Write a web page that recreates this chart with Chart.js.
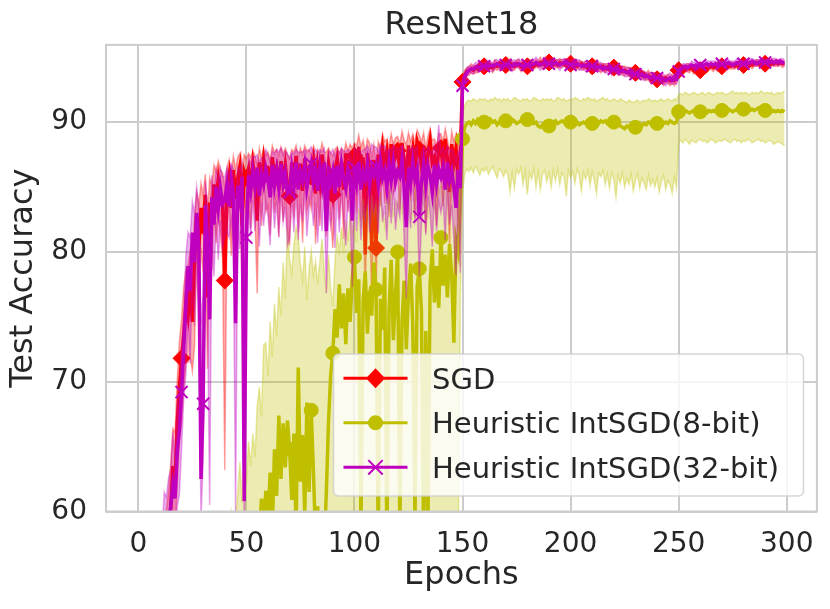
<!DOCTYPE html>
<html>
<head>
<meta charset="utf-8">
<title>ResNet18</title>
<script src="https://cdn.jsdelivr.net/npm/chart.js@4.4.0/dist/chart.umd.min.js"></script>
<style>
  html, body { margin: 0; padding: 0; background: #ffffff; }
  canvas { display: block; }
</style>
</head>
<body>
<canvas id="accChart" width="830" height="609"></canvas>
<script>
// ResNet18 test accuracy per epoch (0..299).
// Bands: SGD / 32-bit as spread above/below the mean, 8-bit as low/high.

const xTicks = [0, 50, 100, 150, 200, 250, 300];
const yTicks = [60, 70, 80, 90];
const seriesNames = ["SGD", "Heuristic IntSGD(8-bit)", "Heuristic IntSGD(32-bit)"];

const sgdMean = [
  20.5, 28.3, 33.1, 38.4, 41.2, 44.8, 46.5, 49.0, 50.7, 52.1,
  53.5, 55.2, 56.0, 57.4, 58.3, 60.2, 63.5, 62.0, 66.8, 69.5,
  71.8, 73.5, 76.0, 75.0, 77.2, 74.6, 79.5, 82.8, 80.2, 83.4,
  82.0, 84.4, 76.5, 83.8, 82.5, 85.2, 84.0, 85.6, 84.3, 83.6,
  77.8, 84.8, 85.9, 83.4, 86.3, 84.1, 85.7, 86.6, 82.0, 86.2,
  85.7, 86.4, 84.9, 86.8, 85.5, 82.4, 86.9, 85.2, 87.1, 85.8,
  86.0, 84.6, 87.3, 85.9, 86.5, 84.8, 87.0, 85.4, 86.7, 85.1,
  84.3, 86.9, 85.6, 87.4, 85.0, 86.8, 84.7, 87.2, 85.9, 86.4,
  85.8, 87.0, 84.5, 86.6, 85.3, 87.5, 86.1, 84.9, 86.8, 85.6,
  84.4, 86.3, 87.2, 85.5, 86.9, 84.8, 87.6, 85.9, 87.0, 86.2,
  87.4, 86.0, 88.1, 85.7, 87.3, 79.8, 87.6, 86.4, 80.5, 87.1,
  80.3, 87.5, 86.2, 88.0, 86.6, 87.7, 85.9, 88.3, 86.8, 87.4,
  87.8, 86.3, 88.4, 87.0, 85.8, 88.2, 86.7, 87.9, 86.1, 88.5,
  87.9, 86.6, 88.2, 85.4, 87.6, 88.6, 86.9, 87.3, 85.7, 88.1,
  88.0, 86.5, 88.7, 87.2, 84.6, 88.3, 86.8, 88.0, 85.5, 87.6,
  93.1, 93.6, 93.9, 94.0, 94.1, 94.0, 94.2, 94.1, 94.3, 94.2,
  94.3, 94.2, 94.4, 94.3, 94.2, 94.4, 94.3, 94.5, 94.3, 94.4,
  94.4, 94.3, 94.5, 94.4, 94.3, 94.5, 94.4, 94.3, 94.5, 94.4,
  94.3, 94.4, 94.5, 94.4, 94.5, 94.4, 94.6, 94.5, 94.4, 94.6,
  94.6, 94.5, 94.6, 94.5, 94.4, 94.6, 94.5, 94.6, 94.5, 94.4,
  94.5, 94.4, 94.5, 94.3, 94.4, 94.5, 94.3, 94.4, 94.3, 94.4,
  94.3, 94.2, 94.4, 94.3, 94.2, 94.3, 94.1, 94.2, 94.3, 94.1,
  94.2, 94.1, 94.0, 94.1, 93.9, 94.0, 93.9, 93.8, 93.9, 93.8,
  93.8, 93.7, 93.8, 93.6, 93.7, 93.5, 93.6, 93.4, 93.5, 93.4,
  93.3, 93.4, 93.3, 93.2, 93.4, 93.3, 93.2, 93.3, 93.2, 93.4,
  94.0, 94.1, 94.2, 94.1, 94.2, 94.1, 94.2, 94.0, 94.1, 94.2,
  94.0, 94.1, 94.2, 94.1, 94.2, 94.3, 94.2, 94.3, 94.2, 94.3,
  94.3, 94.2, 94.3, 94.4, 94.3, 94.4, 94.3, 94.4, 94.5, 94.4,
  94.4, 94.5, 94.4, 94.5, 94.4, 94.5, 94.6, 94.5, 94.4, 94.5,
  94.5, 94.6, 94.5, 94.6, 94.5, 94.6, 94.5, 94.6, 94.5, 94.5
];
const sgdUp = [
  2.0, 2.0, 2.0, 2.0, 2.0, 2.0, 2.0, 2.0, 2.0, 2.0,
  2.5, 2.4, 3.0, 2.8, 3.2, 3.5, 2.9, 4.1, 3.3, 3.6,
  3.0, 3.8, 2.6, 4.0, 2.9, 4.5, 3.1, 1.8, 3.4, 1.9,
  2.4, 1.6, 6.2, 1.9, 2.6, 1.5, 2.2, 1.4, 2.0, 2.5,
  7.2, 1.7, 1.2, 2.6, 1.1, 2.3, 1.6, 1.0, 4.2, 1.3,
  1.5, 1.2, 2.4, 1.0, 1.9, 4.3, 1.1, 2.0, 0.9, 1.6,
  1.7, 2.5, 0.9, 1.8, 1.4, 2.6, 1.1, 2.2, 1.3, 2.4,
  2.9, 1.0, 2.1, 0.8, 2.3, 1.2, 2.8, 1.0, 1.9, 1.5,
  1.7, 1.1, 2.7, 1.3, 2.2, 0.9, 1.6, 2.8, 1.2, 2.0,
  3.0, 1.6, 0.9, 2.1, 1.1, 2.7, 0.8, 1.9, 1.3, 1.8,
  1.0, 2.2, 0.9, 2.4, 1.3, 7.9, 1.1, 2.0, 6.8, 1.2,
  6.5, 1.0, 1.8, 1.1, 1.9, 1.0, 2.2, 0.8, 1.5, 1.4,
  1.1, 2.0, 0.9, 1.6, 2.5, 1.0, 1.8, 1.2, 2.3, 0.9,
  1.1, 1.9, 1.0, 2.6, 1.3, 0.9, 1.7, 1.4, 2.5, 1.0,
  1.1, 2.0, 0.8, 1.5, 3.1, 1.0, 1.7, 1.1, 2.8, 1.4,
  0.5, 0.4, 0.3, 0.3, 0.4, 0.3, 0.2, 0.3, 0.4, 0.3,
  0.3, 0.4, 0.2, 0.3, 0.3, 0.4, 0.3, 0.2, 0.3, 0.4,
  0.2, 0.3, 0.4, 0.3, 0.2, 0.3, 0.4, 0.3, 0.3, 0.2,
  0.3, 0.4, 0.3, 0.2, 0.3, 0.3, 0.4, 0.2, 0.3, 0.3,
  0.4, 0.3, 0.2, 0.3, 0.4, 0.3, 0.3, 0.2, 0.4, 0.3,
  0.3, 0.2, 0.3, 0.4, 0.3, 0.2, 0.3, 0.3, 0.4, 0.3,
  0.2, 0.3, 0.4, 0.3, 0.3, 0.2, 0.4, 0.3, 0.2, 0.3,
  0.3, 0.4, 0.3, 0.2, 0.4, 0.3, 0.3, 0.4, 0.3, 0.2,
  0.4, 0.3, 0.3, 0.4, 0.2, 0.3, 0.4, 0.3, 0.3, 0.4,
  0.3, 0.4, 0.3, 0.3, 0.2, 0.4, 0.3, 0.4, 0.3, 0.5,
  0.4, 0.3, 0.2, 0.3, 0.3, 0.4, 0.2, 0.3, 0.3, 0.2,
  0.3, 0.2, 0.3, 0.3, 0.2, 0.3, 0.2, 0.3, 0.2, 0.3,
  0.2, 0.3, 0.2, 0.2, 0.3, 0.2, 0.3, 0.2, 0.2, 0.3,
  0.2, 0.2, 0.3, 0.2, 0.3, 0.2, 0.2, 0.3, 0.2, 0.2,
  0.3, 0.2, 0.2, 0.3, 0.2, 0.2, 0.3, 0.2, 0.2, 0.2
];
const sgdDown = [
  3.0, 3.0, 3.0, 3.0, 3.0, 3.0, 3.0, 3.0, 3.0, 3.0,
  3.5, 3.2, 4.0, 3.6, 4.4, 3.9, 5.1, 3.7, 4.8, 4.2,
  5.0, 3.9, 4.6, 3.5, 5.2, 3.8, 6.8, 2.9, 4.4, 3.1,
  3.6, 2.4, 5.5, 2.8, 3.9, 2.1, 3.3, 2.6, 3.0, 4.2,
  14.6, 2.9, 2.0, 3.7, 1.8, 3.4, 2.2, 1.9, 5.0, 2.1,
  2.6, 1.9, 3.1, 1.6, 2.8, 5.6, 1.8, 3.2, 1.5, 2.7,
  2.4, 3.3, 1.6, 2.9, 2.0, 3.6, 1.7, 3.1, 2.2, 3.4,
  3.8, 1.9, 3.0, 1.5, 3.5, 1.8, 4.0, 1.6, 2.8, 2.3,
  2.5, 1.7, 3.9, 2.1, 3.3, 1.6, 2.4, 3.7, 1.9, 2.9,
  4.1, 2.3, 1.5, 3.0, 1.7, 3.8, 1.4, 2.8, 2.0, 2.6,
  1.6, 3.0, 1.5, 3.3, 2.0, 4.2, 1.8, 3.1, 4.6, 1.9,
  4.1, 1.7, 2.7, 1.8, 2.9, 1.6, 3.2, 1.4, 2.4, 2.1,
  1.8, 3.0, 1.5, 2.4, 3.6, 1.7, 2.8, 1.9, 3.4, 1.5,
  1.8, 2.9, 1.6, 3.9, 2.0, 1.5, 2.6, 2.2, 3.7, 1.6,
  1.7, 3.0, 1.4, 2.3, 4.4, 1.6, 2.6, 1.8, 4.0, 2.2,
  0.6, 0.4, 0.3, 0.4, 0.3, 0.3, 0.4, 0.3, 0.2, 0.3,
  0.4, 0.3, 0.3, 0.2, 0.4, 0.3, 0.3, 0.4, 0.2, 0.3,
  0.3, 0.2, 0.3, 0.4, 0.3, 0.3, 0.2, 0.4, 0.3, 0.3,
  0.2, 0.3, 0.4, 0.3, 0.3, 0.2, 0.3, 0.4, 0.3, 0.2,
  0.3, 0.4, 0.3, 0.3, 0.2, 0.4, 0.3, 0.3, 0.2, 0.4,
  0.3, 0.3, 0.4, 0.2, 0.3, 0.4, 0.3, 0.2, 0.3, 0.3,
  0.4, 0.3, 0.2, 0.3, 0.4, 0.3, 0.3, 0.2, 0.4, 0.3,
  0.3, 0.2, 0.4, 0.3, 0.3, 0.4, 0.2, 0.3, 0.4, 0.3,
  0.3, 0.4, 0.3, 0.2, 0.4, 0.3, 0.3, 0.4, 0.3, 0.3,
  0.4, 0.3, 0.3, 0.4, 0.3, 0.3, 0.4, 0.3, 0.4, 0.3,
  0.5, 0.3, 0.3, 0.2, 0.3, 0.3, 0.2, 0.3, 0.2, 0.3,
  0.2, 0.3, 0.2, 0.3, 0.2, 0.2, 0.3, 0.2, 0.3, 0.2,
  0.3, 0.2, 0.2, 0.3, 0.2, 0.3, 0.2, 0.2, 0.3, 0.2,
  0.2, 0.3, 0.2, 0.2, 0.3, 0.2, 0.3, 0.2, 0.2, 0.3,
  0.2, 0.2, 0.3, 0.2, 0.2, 0.3, 0.2, 0.2, 0.3, 0.2
];

const q8Mean = [
  10.0, 14.5, 18.2, 21.0, 23.5, 25.8, 27.4, 29.9, 31.2, 33.0,
  34.1, 35.8, 36.5, 38.0, 38.9, 40.2, 41.0, 42.3, 42.9, 44.1,
  44.8, 45.5, 46.7, 45.9, 47.8, 48.3, 47.6, 49.2, 49.9, 48.8,
  50.5, 51.2, 50.1, 52.0, 51.4, 52.8, 52.2, 53.5, 52.7, 54.0,
  53.4, 54.6, 55.2, 54.1, 55.8, 55.0, 56.4, 55.7, 57.0, 56.2,
  57.5, 58.1, 56.9, 58.6, 57.8, 59.1, 58.3, 61.0, 58.9, 61.6,
  59.5, 63.0, 58.7, 64.8, 61.2, 67.4, 62.5, 66.8, 63.4, 67.0,
  64.8, 60.9, 66.0, 58.5, 71.1, 62.3, 65.9, 59.8, 68.4, 61.5,
  67.8, 63.2, 57.9, 60.4, 55.6, 58.8, 57.2, 61.5, 66.9, 70.5,
  72.2, 75.6, 73.4, 77.5, 74.1, 76.8, 72.9, 77.2, 74.6, 78.0,
  79.6, 75.3, 77.9, 58.4, 76.2, 78.5, 73.7, 77.0, 75.1, 79.2,
  77.1, 57.5, 76.4, 74.0, 78.8, 56.9, 75.5, 79.4, 73.2, 76.7,
  80.0, 58.2, 74.6, 77.8, 72.5, 76.9, 79.1, 74.3, 59.0, 77.3,
  78.7, 75.4, 57.8, 73.9, 58.6, 77.6, 80.2, 76.1, 78.9, 75.7,
  81.1, 77.4, 79.8, 76.5, 80.6, 78.2, 73.0, 80.9, 80.0, 84.0,
  88.7, 89.6, 89.9, 90.0, 89.8, 90.1, 89.9, 90.2, 90.0, 89.9,
  90.0, 90.1, 89.9, 90.2, 90.0, 90.1, 89.8, 90.0, 90.2, 90.1,
  90.1, 89.9, 90.0, 90.2, 90.1, 89.9, 90.0, 90.1, 90.2, 90.0,
  90.2, 90.0, 90.1, 89.9, 90.0, 89.7, 89.6, 89.8, 89.7, 89.9,
  89.7, 89.9, 90.0, 90.1, 89.9, 90.0, 90.1, 90.0, 89.9, 90.1,
  90.0, 89.9, 90.1, 90.0, 89.8, 89.9, 90.0, 89.9, 90.1, 90.0,
  89.9, 90.0, 89.8, 89.9, 90.1, 90.0, 90.1, 89.9, 90.0, 90.2,
  90.0, 90.1, 89.9, 89.7, 89.6, 89.5, 89.7, 89.6, 89.8, 89.6,
  89.6, 89.7, 89.8, 89.7, 89.9, 89.8, 90.0, 89.9, 89.8, 90.0,
  89.9, 90.0, 89.8, 89.9, 90.0, 89.9, 90.1, 90.0, 89.9, 90.0,
  90.8, 90.7, 90.8, 90.9, 90.8, 90.7, 90.8, 90.9, 90.8, 90.9,
  90.8, 90.9, 90.8, 90.7, 90.9, 90.8, 90.9, 90.8, 90.9, 90.8,
  90.9, 90.8, 90.9, 91.0, 90.9, 90.8, 90.9, 91.0, 90.9, 91.0,
  91.0, 90.9, 91.0, 90.9, 91.0, 90.9, 91.0, 91.1, 91.0, 90.9,
  90.9, 91.0, 90.9, 90.8, 90.9, 90.8, 90.9, 90.8, 90.9, 90.8
];
const q8Lo = [
  2.1, 4.8, 8.3, 9.7, 12.4, 13.9, 16.2, 17.5, 19.3, 20.8,
  21.6, 23.4, 23.9, 25.7, 26.1, 27.8, 28.3, 29.6, 30.2, 31.5,
  31.8, 32.9, 33.4, 33.1, 34.6, 35.2, 34.8, 36.1, 36.7, 36.0,
  37.3, 38.1, 37.6, 38.9, 38.4, 39.7, 39.2, 40.6, 40.1, 41.3,
  40.9, 42.2, 42.6, 41.8, 43.5, 42.9, 44.1, 43.7, 45.0, 44.4,
  45.6, 46.3, 45.1, 47.0, 46.2, 47.8, 46.9, 48.5, 47.4, 49.1,
  48.2, 50.0, 47.6, 51.3, 49.0, 52.4, 49.8, 52.0, 50.6, 53.1,
  51.0, 48.7, 52.6, 47.9, 55.2, 50.3, 53.4, 48.5, 54.7, 49.6,
  54.1, 50.8, 47.2, 49.5, 45.8, 48.0, 46.9, 50.2, 54.0, 56.3,
  44.1, 47.4, 45.6, 49.2, 46.0, 48.5, 44.7, 49.8, 46.9, 50.1,
  52.0, 47.2, 50.5, 31.0, 48.8, 51.1, 45.9, 49.6, 47.0, 51.7,
  49.0, 30.1, 48.4, 46.1, 51.3, 29.5, 47.8, 52.0, 45.4, 48.9,
  52.4, 31.6, 46.7, 50.2, 44.8, 49.0, 51.6, 46.5, 32.8, 49.4,
  50.9, 47.6, 31.2, 46.0, 32.1, 49.9, 52.8, 48.2, 51.2, 47.8,
  53.5, 49.6, 52.1, 48.7, 53.0, 50.4, 44.9, 53.3, 57.2, 76.5,
  84.5, 86.0, 86.4, 86.2, 86.5, 86.1, 86.6, 86.3, 85.9, 86.4,
  86.2, 86.5, 86.0, 86.3, 86.6, 86.1, 85.7, 86.4, 86.2, 85.8,
  86.3, 85.9, 84.6, 86.1, 84.9, 86.4, 86.0, 86.5, 85.2, 86.2,
  84.4, 86.1, 85.6, 86.4, 85.0, 86.2, 84.8, 86.0, 86.3, 85.4,
  86.1, 85.0, 86.3, 85.5, 86.4, 85.2, 86.1, 85.8, 84.3, 86.3,
  85.7, 86.2, 85.3, 86.4, 85.9, 84.7, 86.1, 85.6, 86.3, 85.1,
  86.2, 85.5, 84.5, 86.1, 85.8, 86.3, 85.2, 86.0, 84.9, 86.1,
  85.6, 84.2, 85.9, 85.3, 86.1, 85.0, 85.7, 85.2, 86.0, 84.7,
  85.5, 86.0, 84.9, 85.7, 85.3, 84.8, 85.9, 85.1, 85.6, 85.0,
  85.7, 84.6, 85.4, 85.9, 84.8, 85.5, 85.2, 84.5, 85.8, 84.9,
  88.5, 88.6, 88.4, 88.7, 88.5, 88.3, 88.6, 88.5, 88.4, 88.6,
  88.7, 88.5, 88.6, 88.4, 88.5, 88.7, 88.6, 88.4, 88.5, 88.6,
  88.5, 88.7, 88.6, 88.5, 88.4, 88.6, 88.7, 88.5, 88.6, 88.4,
  88.6, 88.5, 88.7, 88.6, 88.4, 88.5, 88.6, 88.7, 88.5, 88.6,
  88.4, 88.5, 88.6, 88.5, 88.3, 88.4, 88.5, 88.4, 88.3, 88.2
];
const q8Hi = [
  20.0, 24.0, 28.0, 31.0, 33.0, 35.0, 37.0, 39.0, 40.0, 42.0,
  43.0, 44.0, 45.0, 46.5, 47.0, 48.0, 49.0, 49.5, 50.5, 51.0,
  52.0, 52.5, 53.5, 53.0, 54.5, 55.0, 54.0, 56.0, 56.5, 55.5,
  57.0, 57.5, 56.5, 58.0, 57.5, 59.0, 58.0, 59.5, 58.5, 59.8,
  58.8, 59.6, 58.2, 59.9, 58.5, 59.4, 61.5, 63.8, 60.7, 64.3,
  62.1, 65.4, 63.5, 66.0, 64.2, 68.1, 69.6, 67.3, 72.8, 73.0,
  70.4, 74.6, 71.9, 76.0, 73.5, 77.3, 75.1, 79.2, 76.4, 81.9,
  79.5, 78.3, 80.6, 81.9, 81.2, 79.0, 77.8, 80.4, 76.3, 78.7,
  80.1, 78.2, 79.3, 77.5, 79.3, 81.0, 78.6, 76.9, 79.8, 77.2,
  75.8, 79.4, 81.2, 80.0, 81.9, 79.9, 82.4, 80.8, 83.0, 81.5,
  82.6, 80.7, 83.4, 81.9, 84.1, 82.5, 83.6, 81.8, 84.4, 82.9,
  83.8, 82.2, 84.6, 83.1, 82.0, 84.9, 83.3, 85.2, 82.7, 84.0,
  83.5, 85.1, 82.9, 84.7, 83.6, 85.4, 84.0, 82.8, 85.0, 83.9,
  84.8, 83.2, 85.5, 84.1, 82.6, 85.7, 84.4, 83.5, 85.9, 84.6,
  85.3, 83.9, 86.0, 84.8, 85.6, 84.2, 86.3, 85.1, 86.0, 87.4,
  90.6, 91.3, 91.6, 91.7, 91.6, 91.8, 91.7, 91.6, 91.8, 91.7,
  91.8, 91.7, 91.6, 91.8, 91.7, 91.9, 91.7, 91.8, 91.6, 91.8,
  91.7, 91.8, 91.6, 91.7, 91.9, 91.8, 91.7, 91.6, 91.8, 91.7,
  91.8, 91.6, 91.7, 91.9, 91.8, 91.7, 91.6, 91.8, 91.7, 91.8,
  91.7, 91.8, 91.6, 91.7, 91.9, 91.8, 91.7, 91.8, 91.6, 91.7,
  91.8, 91.7, 91.9, 91.8, 91.7, 91.6, 91.8, 91.7, 91.9, 91.8,
  91.7, 91.8, 91.6, 91.7, 91.8, 91.9, 91.7, 91.8, 91.6, 91.7,
  91.8, 91.7, 91.6, 91.8, 91.7, 91.6, 91.5, 91.7, 91.6, 91.5,
  91.6, 91.7, 91.5, 91.6, 91.7, 91.6, 91.8, 91.7, 91.6, 91.7,
  91.6, 91.7, 91.8, 91.6, 91.7, 91.8, 91.7, 91.6, 91.8, 91.7,
  92.1, 92.2, 92.1, 92.3, 92.2, 92.1, 92.2, 92.3, 92.2, 92.1,
  92.2, 92.3, 92.1, 92.2, 92.3, 92.2, 92.1, 92.2, 92.3, 92.2,
  92.3, 92.2, 92.1, 92.2, 92.3, 92.4, 92.2, 92.3, 92.2, 92.3,
  92.2, 92.3, 92.2, 92.1, 92.3, 92.2, 92.3, 92.2, 92.4, 92.3,
  92.2, 92.3, 92.2, 92.3, 92.1, 92.2, 92.3, 92.2, 92.3, 92.4
];

const q32Mean = [
  18.0, 26.5, 31.9, 36.2, 40.8, 43.1, 46.0, 48.2, 50.5, 51.9,
  53.8, 55.0, 57.2, 58.1, 59.0, 60.4, 62.1, 61.0, 64.5, 66.3,
  69.2, 72.5, 75.8, 78.9, 77.0, 81.5, 79.2, 83.0, 80.4, 62.5,
  68.3, 83.6, 81.0, 74.8, 84.2, 82.1, 85.0, 83.3, 84.9, 83.7,
  84.0, 85.2, 83.5, 85.6, 84.4, 74.5, 85.1, 84.0, 85.8, 60.8,
  81.1, 85.9, 84.7, 86.2, 85.0, 86.5, 84.3, 86.0, 85.2, 86.4,
  85.6, 84.2, 86.7, 85.1, 86.3, 84.9, 86.8, 85.3, 86.1, 84.6,
  84.6, 86.4, 85.1, 86.9, 84.8, 86.2, 85.5, 86.7, 84.9, 86.0,
  86.8, 85.4, 86.3, 84.7, 86.5, 85.2, 86.9, 81.6, 86.0, 85.3,
  86.2, 84.5, 86.6, 85.0, 86.8, 85.7, 84.9, 86.4, 85.8, 82.4,
  86.5, 85.3, 86.9, 84.8, 86.2, 85.6, 86.8, 85.1, 86.4, 85.9,
  86.6, 85.2, 87.0, 85.7, 86.3, 84.9, 86.8, 85.5, 86.9, 85.4,
  86.2, 85.8, 87.1, 85.0, 81.9, 86.5, 85.3, 86.9, 85.6, 86.3,
  82.7, 85.4, 86.8, 85.1, 86.6, 85.9, 84.6, 86.7, 85.2, 86.4,
  85.8, 86.5, 84.8, 86.9, 85.5, 86.2, 85.0, 83.4, 86.3, 84.9,
  92.8, 93.5, 93.8, 94.0, 94.1, 94.1, 94.2, 94.3, 94.2, 94.3,
  94.3, 94.4, 94.3, 94.4, 94.3, 94.4, 94.5, 94.4, 94.3, 94.4,
  94.4, 94.5, 94.4, 94.3, 94.5, 94.4, 94.5, 94.4, 94.3, 94.4,
  94.4, 94.5, 94.4, 94.5, 94.6, 94.5, 94.4, 94.5, 94.6, 94.5,
  94.5, 94.6, 94.5, 94.6, 94.5, 94.4, 94.5, 94.6, 94.5, 94.5,
  94.4, 94.5, 94.4, 94.5, 94.4, 94.3, 94.4, 94.3, 94.4, 94.3,
  94.3, 94.2, 94.3, 94.2, 94.3, 94.1, 94.2, 94.1, 94.2, 94.0,
  94.1, 94.0, 94.1, 93.9, 94.0, 93.9, 93.8, 93.9, 93.7, 93.8,
  93.7, 93.8, 93.6, 93.7, 93.5, 93.6, 93.5, 93.4, 93.5, 93.4,
  93.4, 93.3, 93.4, 93.3, 93.2, 93.3, 93.4, 93.2, 93.3, 93.3,
  93.9, 94.1, 94.2, 94.3, 94.2, 94.3, 94.4, 94.3, 94.4, 94.3,
  94.4, 94.3, 94.4, 94.5, 94.4, 94.5, 94.4, 94.5, 94.4, 94.5,
  94.5, 94.4, 94.5, 94.6, 94.5, 94.4, 94.5, 94.6, 94.5, 94.6,
  94.5, 94.6, 94.5, 94.6, 94.7, 94.6, 94.5, 94.6, 94.7, 94.6,
  94.6, 94.7, 94.6, 94.7, 94.6, 94.7, 94.6, 94.7, 94.6, 94.6
];
const q32Up = [
  2.0, 2.0, 2.0, 2.0, 2.0, 2.0, 2.0, 2.0, 2.0, 2.0,
  2.8, 3.4, 4.3, 3.0, 3.6, 2.9, 4.0, 3.2, 3.8, 3.1,
  3.5, 2.8, 3.9, 2.6, 4.1, 2.4, 3.7, 2.0, 3.3, 12.0,
  8.5, 1.9, 2.8, 7.6, 1.7, 2.5, 1.4, 2.3, 1.6, 2.1,
  1.8, 1.3, 2.4, 1.2, 2.0, 9.2, 1.5, 2.2, 1.1, 20.5,
  3.2, 1.4, 2.1, 1.2, 2.3, 1.0, 2.6, 1.3, 2.0, 1.5,
  1.9, 2.7, 1.1, 2.4, 1.6, 2.8, 1.2, 2.1, 1.7, 3.0,
  2.6, 1.3, 2.4, 1.0, 2.9, 1.5, 2.2, 1.2, 2.8, 1.8,
  1.3, 2.2, 1.6, 2.9, 1.4, 2.5, 1.1, 4.6, 1.8, 2.3,
  1.7, 2.9, 1.3, 2.6, 1.2, 2.1, 2.8, 1.5, 2.0, 4.1,
  1.6, 2.4, 1.2, 2.8, 1.7, 2.3, 1.4, 2.6, 1.9, 2.2,
  1.5, 2.5, 1.3, 2.4, 1.9, 2.7, 1.2, 2.3, 1.4, 2.6,
  1.8, 2.2, 1.1, 2.7, 4.9, 1.6, 2.5, 1.3, 2.2, 1.9,
  4.1, 2.3, 1.4, 2.6, 1.5, 2.0, 3.0, 1.6, 2.4, 3.4,
  1.9, 1.6, 2.8, 1.3, 2.2, 1.8, 2.7, 3.6, 1.5, 2.4,
  0.6, 0.3, 0.4, 0.3, 0.2, 0.3, 0.4, 0.3, 0.3, 0.2,
  0.3, 0.4, 0.3, 0.3, 0.2, 0.4, 0.3, 0.3, 0.4, 0.2,
  0.3, 0.3, 0.2, 0.4, 0.3, 0.3, 0.4, 0.2, 0.3, 0.3,
  0.4, 0.2, 0.3, 0.3, 0.4, 0.3, 0.2, 0.3, 0.4, 0.3,
  0.3, 0.3, 0.4, 0.2, 0.3, 0.4, 0.3, 0.3, 0.2, 0.4,
  0.2, 0.4, 0.3, 0.3, 0.4, 0.3, 0.2, 0.4, 0.3, 0.3,
  0.3, 0.2, 0.4, 0.3, 0.3, 0.4, 0.3, 0.2, 0.3, 0.4,
  0.4, 0.3, 0.2, 0.4, 0.3, 0.3, 0.4, 0.3, 0.2, 0.3,
  0.3, 0.3, 0.4, 0.3, 0.4, 0.2, 0.3, 0.4, 0.3, 0.4,
  0.3, 0.4, 0.3, 0.4, 0.3, 0.3, 0.4, 0.3, 0.4, 0.5,
  0.4, 0.3, 0.3, 0.2, 0.3, 0.2, 0.3, 0.3, 0.2, 0.3,
  0.2, 0.3, 0.2, 0.2, 0.3, 0.2, 0.3, 0.2, 0.3, 0.2,
  0.3, 0.2, 0.3, 0.2, 0.2, 0.3, 0.2, 0.3, 0.2, 0.2,
  0.2, 0.3, 0.2, 0.3, 0.2, 0.2, 0.3, 0.2, 0.2, 0.3,
  0.2, 0.2, 0.3, 0.2, 0.3, 0.2, 0.2, 0.2, 0.3, 0.2
];
const q32Down = [
  3.0, 3.0, 3.0, 3.0, 3.0, 3.0, 3.0, 3.0, 3.0, 3.0,
  3.2, 4.0, 3.5, 4.2, 3.7, 4.5, 3.9, 4.8, 4.1, 5.0,
  4.4, 3.8, 5.2, 4.0, 5.6, 3.6, 4.9, 3.4, 6.1, 3.0,
  4.5, 2.9, 4.8, 14.3, 3.1, 4.0, 2.7, 3.9, 2.5, 3.4,
  2.8, 3.6, 2.4, 3.1, 3.9, 14.5, 2.6, 3.8, 2.3, 3.0,
  5.2, 2.7, 3.5, 2.2, 3.4, 2.6, 3.9, 2.1, 3.2, 2.5,
  2.9, 3.7, 2.0, 3.3, 2.4, 3.8, 2.2, 3.0, 2.6, 4.1,
  3.5, 2.3, 3.6, 2.1, 3.9, 2.5, 3.2, 2.0, 3.7, 2.6,
  2.2, 3.4, 2.5, 4.0, 2.3, 3.6, 2.1, 4.8, 2.7, 3.3,
  2.5, 4.2, 2.2, 3.5, 2.0, 3.1, 4.4, 2.4, 3.0, 5.1,
  2.3, 3.7, 2.0, 3.9, 2.6, 3.2, 2.1, 3.6, 2.4, 3.0,
  2.2, 3.8, 1.9, 3.4, 2.7, 4.0, 2.0, 3.3, 2.1, 3.7,
  2.6, 3.1, 1.8, 3.9, 5.5, 2.4, 3.5, 2.0, 3.2, 2.7,
  4.6, 3.3, 2.1, 3.8, 2.3, 2.9, 4.2, 2.2, 3.6, 2.5,
  2.8, 2.4, 3.9, 2.0, 3.4, 2.6, 4.0, 5.2, 2.3, 6.5,
  0.5, 0.4, 0.3, 0.2, 0.3, 0.4, 0.3, 0.3, 0.2, 0.3,
  0.4, 0.3, 0.2, 0.3, 0.4, 0.3, 0.2, 0.3, 0.3, 0.4,
  0.3, 0.2, 0.3, 0.4, 0.3, 0.2, 0.3, 0.4, 0.3, 0.3,
  0.2, 0.3, 0.4, 0.3, 0.2, 0.3, 0.4, 0.3, 0.3, 0.2,
  0.3, 0.4, 0.2, 0.3, 0.3, 0.4, 0.3, 0.2, 0.4, 0.3,
  0.4, 0.3, 0.3, 0.2, 0.4, 0.3, 0.3, 0.4, 0.2, 0.3,
  0.3, 0.4, 0.2, 0.3, 0.3, 0.2, 0.4, 0.3, 0.3, 0.4,
  0.2, 0.3, 0.4, 0.3, 0.2, 0.4, 0.3, 0.3, 0.4, 0.3,
  0.4, 0.3, 0.3, 0.4, 0.3, 0.3, 0.2, 0.4, 0.3, 0.3,
  0.3, 0.4, 0.3, 0.3, 0.4, 0.3, 0.4, 0.3, 0.3, 0.4,
  0.5, 0.3, 0.2, 0.3, 0.3, 0.2, 0.3, 0.2, 0.3, 0.3,
  0.3, 0.2, 0.3, 0.2, 0.3, 0.3, 0.2, 0.3, 0.2, 0.3,
  0.2, 0.3, 0.2, 0.3, 0.2, 0.2, 0.3, 0.2, 0.3, 0.2,
  0.3, 0.2, 0.2, 0.3, 0.2, 0.3, 0.2, 0.2, 0.3, 0.2,
  0.2, 0.3, 0.2, 0.2, 0.3, 0.2, 0.3, 0.2, 0.2, 0.2
];

const FONT = "'DejaVu Sans', 'Liberation Sans', sans-serif";
const TEXT = "#262626";
const GRID = "#cccccc";
const RED = "255,0,0", OLIVE = "191,191,0", MAGENTA = "191,0,191";

const rgba = (c, a) => `rgba(${c},${a})`;
const toPoints = vals => vals.map((y, i) => ({ x: i, y }));
const markEvery = r => ctx => (ctx.dataIndex % 10 === 0 ? r : 0);

const sgdLo = sgdMean.map((m, i) => m - sgdDown[i]);
const sgdHi = sgdMean.map((m, i) => m + sgdUp[i]);
const q32Lo = q32Mean.map((m, i) => m - q32Down[i]);
const q32Hi = q32Mean.map((m, i) => m + q32Up[i]);

// lower edge, then upper edge filled back to it
function band(lo, hi, color, order) {
  const edge = { borderColor: rgba(color, 0.35), borderWidth: 1.5, pointRadius: 0 };
  return [
    { ...edge, data: toPoints(lo), fill: false, order: order },
    { ...edge, data: toPoints(hi), fill: "-1", backgroundColor: rgba(color, 0.3), order: order - 1 }
  ];
}

function meanLine(vals, color, style, radius, markerBorder, order) {
  return {
    data: toPoints(vals),
    borderColor: rgba(color, 1),
    borderWidth: 3.5,
    fill: false,
    pointStyle: style,
    pointRadius: markEvery(radius),
    pointBackgroundColor: rgba(color, 1),
    pointBorderColor: rgba(color, 1),
    pointBorderWidth: markerBorder,
    order: order
  };
}

const datasets = [
  ...band(sgdLo, sgdHi, RED, 60),
  meanLine(sgdMean, RED, "rectRot", 8.5, 1, 50),
  ...band(q8Lo, q8Hi, OLIVE, 40),
  meanLine(q8Mean, OLIVE, "circle", 7, 1, 30),
  ...band(q32Lo, q32Hi, MAGENTA, 20),
  meanLine(q32Mean, MAGENTA, "crossRot", 8.5, 2, 10)
];

// matplotlib style frame on all four sides
const framePlugin = {
  id: "frame",
  afterDatasetsDraw(chart) {
    const { ctx, chartArea: a } = chart;
    ctx.save();
    ctx.strokeStyle = GRID;
    ctx.lineWidth = 2;
    ctx.strokeRect(a.left, a.top, a.right - a.left, a.bottom - a.top);
    ctx.restore();
  }
};

function drawMarker(ctx, style, x, y, color) {
  ctx.fillStyle = color;
  ctx.strokeStyle = color;
  ctx.beginPath();
  if (style === "rectRot") {
    ctx.moveTo(x, y - 10); ctx.lineTo(x + 9.5, y); ctx.lineTo(x, y + 10); ctx.lineTo(x - 9.5, y);
    ctx.closePath(); ctx.fill();
  } else if (style === "circle") {
    ctx.arc(x, y, 7.5, 0, Math.PI * 2); ctx.fill();
  } else {
    const r = 7.2;
    ctx.lineWidth = 2;
    ctx.moveTo(x - r, y - r); ctx.lineTo(x + r, y + r);
    ctx.moveTo(x + r, y - r); ctx.lineTo(x - r, y + r);
    ctx.stroke();
  }
}

const legendPlugin = {
  id: "innerLegend",
  afterDraw(chart) {
    const ctx = chart.ctx;
    const box = { x: 333.5, y: 354, w: 470, h: 142, r: 5 };
    ctx.save();
    ctx.beginPath();
    ctx.roundRect(box.x, box.y, box.w, box.h, box.r);
    ctx.fillStyle = "rgba(255,255,255,0.8)";
    ctx.fill();
    ctx.strokeStyle = "rgba(204,204,204,0.8)";
    ctx.lineWidth = 1.5;
    ctx.stroke();

    const colors = [RED, OLIVE, MAGENTA];
    const styles = ["rectRot", "circle", "crossRot"];
    ctx.font = `29px ${FONT}`;
    ctx.textBaseline = "alphabetic";
    seriesNames.forEach((name, i) => {
      const rowY = 378.3 + i * 44.5;
      const col = rgba(colors[i], 1);
      ctx.strokeStyle = col;
      ctx.lineWidth = 3;
      ctx.beginPath();
      ctx.moveTo(343.5, rowY);
      ctx.lineTo(407.5, rowY);
      ctx.stroke();
      drawMarker(ctx, styles[i], 375.5, rowY, col);
      ctx.fillStyle = TEXT;
      ctx.fillText(name, 432, rowY + 10.6);
    });
    ctx.restore();
  }
};

new Chart(document.getElementById("accChart"), {
  type: "line",
  data: { datasets },
  plugins: [framePlugin, legendPlugin],
  options: {
    responsive: false,
    animation: false,
    events: [],
    layout: { padding: { left: 0, right: 10.7, top: 0, bottom: 0 } },
    elements: { line: { tension: 0 } },
    plugins: {
      legend: { display: false },
      tooltip: { enabled: false },
      title: {
        display: true,
        text: "ResNet18",
        fullSize: false,
        color: TEXT,
        font: { family: FONT, size: 32, weight: "normal" },
        padding: { top: 6.5, bottom: 0 }
      }
    },
    scales: {
      x: {
        type: "linear",
        min: -14.95,
        max: 313.95,
        afterBuildTicks: s => { s.ticks = xTicks.map(v => ({ value: v })); },
        afterFit: s => { s.height = 97.5; },
        grid: { color: GRID, lineWidth: 2, drawTicks: false },
        border: { display: false },
        ticks: { padding: 16, color: TEXT, font: { family: FONT, size: 28 }, maxRotation: 0, autoSkip: false },
        title: {
          display: true,
          text: "Epochs",
          color: TEXT,
          font: { family: FONT, size: 32 },
          padding: { top: 0, bottom: 14.2 }
        }
      },
      y: {
        min: 60,
        max: 95.95,
        afterBuildTicks: s => { s.ticks = yTicks.map(v => ({ value: v })); },
        afterFit: s => { s.width = 106; },
        grid: { color: GRID, lineWidth: 2, drawTicks: false },
        border: { display: false },
        ticks: { padding: 19, color: TEXT, font: { family: FONT, size: 28 } },
        title: {
          display: true,
          text: "Test Accuracy",
          color: TEXT,
          font: { family: FONT, size: 32 },
          padding: { top: 4.8, bottom: 0 }
        }
      }
    }
  }
});
</script>
</body>
</html>
